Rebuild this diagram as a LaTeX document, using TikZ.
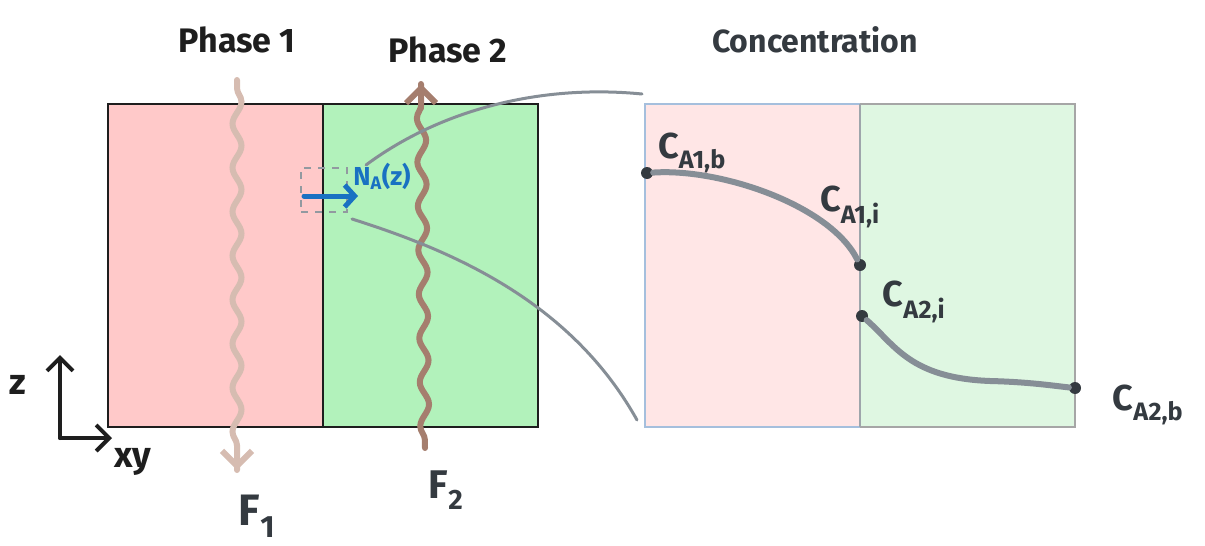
\documentclass[tikz,border=0pt]{standalone}
\usepackage{fontspec}
\setmainfont{Fira Sans}
\usetikzlibrary{arrows.meta,decorations.pathmorphing}
\definecolor{pinkA}{HTML}{FFC9C9}
\definecolor{greenA}{HTML}{B2F2BB}
\definecolor{pinkB}{HTML}{FFE6E6}
\definecolor{greenB}{HTML}{DFF7E2}
\definecolor{tanC}{HTML}{D6BCB1}
\definecolor{brownC}{HTML}{A57E6E}
\definecolor{grayC}{HTML}{868E96}
\definecolor{blueC}{HTML}{1971C2}
\definecolor{inkC}{HTML}{343A40}
\definecolor{blackC}{HTML}{1E1E1E}
\definecolor{edgeB}{HTML}{A5BFDD}
\tikzset{
  x=1pt,y=-1pt,
  phasebox/.style={draw=blackC,line width=2pt},
  title/.style={font=\fontsize{34}{36}\selectfont\bfseries,text=blackC,inner sep=0pt},
  lab/.style={font=\fontsize{36}{38}\selectfont\bfseries,text=inkC,inner sep=0pt},
  flow/.style={line width=6pt,line cap=round,decorate,decoration={snake,amplitude=4.5pt,segment length=44pt,pre length=8pt,post length=18pt}},
  tip/.style={-{Straight Barb[length=15pt,width=30pt]}},
  link/.style={draw=grayC,line width=3pt,line cap=round},
  curve/.style={draw=grayC,line width=6pt,line cap=round},
  dot/.style={circle,fill=inkC,inner sep=0pt,minimum size=12pt},
  axis/.style={draw=blackC,line width=4pt,line cap=round,-{Straight Barb[length=13pt,width=26pt]}}
}
\begin{document}
\begin{tikzpicture}
\useasboundingbox (0,0) rectangle (1205,546);
% left boxes
\path[fill=pinkA] (108,104) rectangle (323,427);
\path[fill=greenA] (323,104) rectangle (538,427);
\draw[phasebox] (108,104) rectangle (538,427);
\draw[phasebox] (323,104) -- (323,427);
% right plot
\path[fill=pinkB] (645,104) rectangle (860,427);
\path[fill=greenB] (860,104) rectangle (1075,427);
\draw[draw=edgeB,line width=1.2pt] (645,104) rectangle (860,427);
\draw[draw=gray!70,line width=1.2pt] (860,104) -- (1075,104) -- (1075,427) -- (860,427);
\draw[draw=grayC!80,line width=1.2pt] (860,104) -- (860,427);
% titles
\node[title] (p1) at (237,40) {Phase 1};
\node[title] (p2) at (448,50) {Phase 2};
\node[title,text=inkC,font=\fontsize{32}{34}\selectfont\bfseries] (conc) at (815,40) {Concentration};
% flows
\coordinate (f1s) at (237,80);
\coordinate (f1e) at (237,470);
\coordinate (f2s) at (425,448);
\coordinate (f2e) at (421,84);
\draw[flow,tanC] (f1s) -- (f1e);
\draw[tanC,line width=6pt,line cap=round,tip] (237,445) -- (f1e);
\draw[flow,brownC] (f2s) -- (f2e);
\draw[brownC,line width=6pt,line cap=round,tip] (421,108) -- (f2e);
\node[lab,font=\fontsize{44}{46}\selectfont\bfseries] (F1) at (257,516) {F\textsubscript{1}};
\node[lab,font=\fontsize{40}{42}\selectfont\bfseries] (F2) at (446,490) {F\textsubscript{2}};
% axes
\coordinate (o) at (60,438);
\coordinate (zt) at (60,355);
\coordinate (xt) at (112,438);
\draw[axis] (o) -- (zt);
\draw[axis] (o) -- (xt);
\node[lab,text=blackC] (zl) at (18,385) {z};
\node[lab,text=blackC] (xyl) at (133,462) {xy};
% flux
\node[draw=grayC!90,dash pattern=on 7pt off 7pt,line width=2pt,minimum width=46pt,minimum height=44pt,inner sep=0pt] (win) at (324,190) {};
\coordinate (na0) at (304,196);
\coordinate (na1) at (358,196);
\draw[blueC,line width=5pt,line cap=round,-{Straight Barb[length=10pt,width=22pt]}] (na0) -- (na1);
\node[lab,text=blueC,font=\fontsize{26}{28}\selectfont\bfseries] (NA) at (382,176) {N\textsubscript{A}(z)};
% links
\coordinate (pt) at (642,94);
\coordinate (pb) at (637,420);
\draw[link] (win.north east) ++(18,-2) .. controls (440,110) and (540,84) .. (pt);
\draw[link] (win.south east) ++(4,6) .. controls (450,250) and (570,300) .. (pb);
% concentration profile
\node[dot] (c1b) at (647,173) {};
\node[dot] (c1i) at (860,265) {};
\node[dot] (c2i) at (862,316) {};
\node[dot] (c2b) at (1075,388) {};
\draw[curve] (c1b) .. controls (720,168) and (830,205) .. (c1i);
\draw[curve] (c2i) .. controls (895,345) and (910,378) .. (990,381) .. controls (1030,382) and (1055,386) .. (c2b);
\node[lab] (l1b) at (692,153) {C\textsubscript{A1,b}};
\node[lab] (l1i) at (850,207) {C\textsubscript{A1,i}};
\node[lab] (l2i) at (914,302) {C\textsubscript{A2,i}};
\node[lab] (l2b) at (1148,405) {C\textsubscript{A2,b}};
\end{tikzpicture}
\end{document}
